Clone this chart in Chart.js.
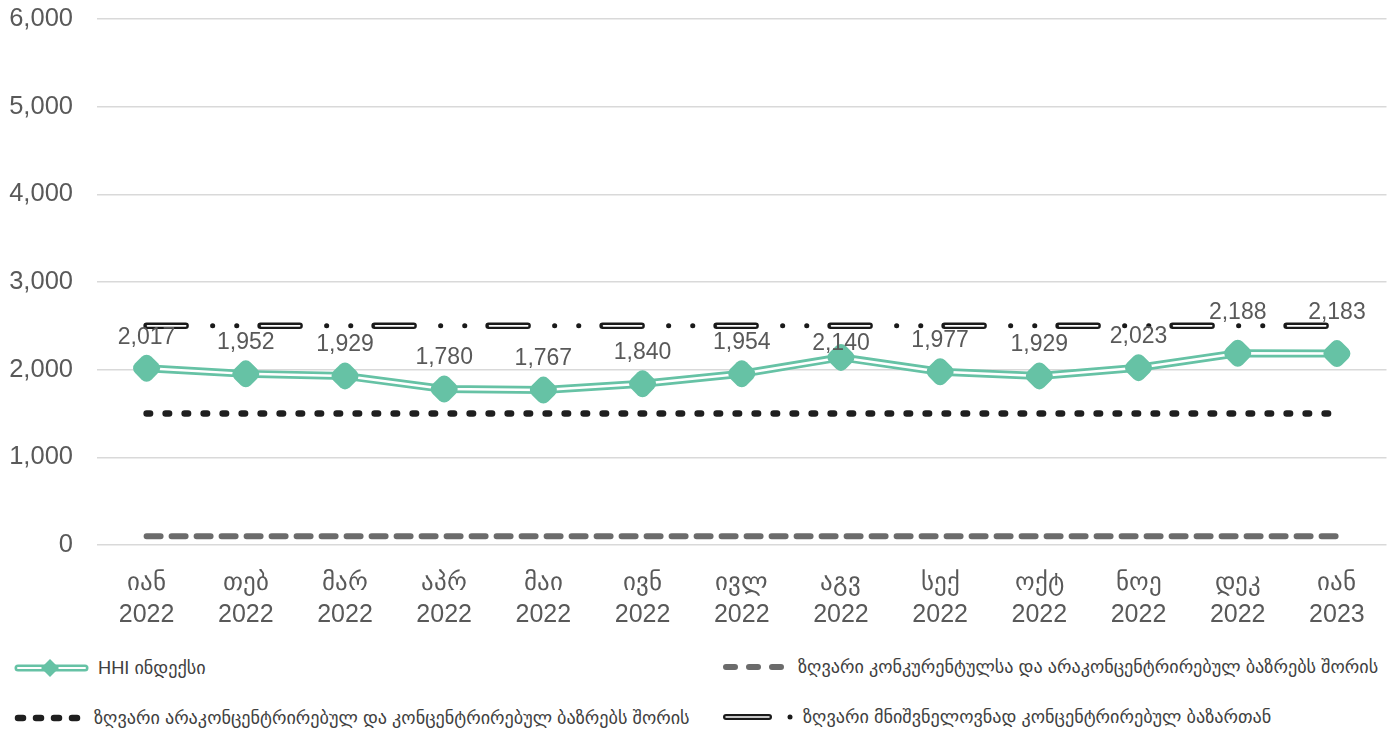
<!DOCTYPE html>
<html>
<head>
<meta charset="utf-8">
<script src="https://cdn.jsdelivr.net/npm/chart.js@4.4.1/dist/chart.umd.min.js"></script>
<style>
  body { margin: 0; background: #fff; width: 1400px; height: 733px; overflow: hidden;
         font-family: "Liberation Sans", "DejaVu Sans", sans-serif; }
  #wrap { position: relative; width: 1400px; height: 640px; }
  .item { position: absolute; display: flex; align-items: center; height: 24px;
          font-family: "Liberation Sans", "DejaVu Sans", sans-serif; font-size: 18.2px; color: #404040; }
</style>
</head>
<body>
<div id="wrap"><canvas id="hhiChart" width="1400" height="640"></canvas></div>
<div id="legend"></div>
<script>
const months = ['იან', 'თებ', 'მარ', 'აპრ', 'მაი', 'ივნ', 'ივლ', 'აგვ', 'სექ', 'ოქტ', 'ნოე', 'დეკ', 'იან'];
const years = ['2022', '2022', '2022', '2022', '2022', '2022', '2022', '2022', '2022', '2022', '2022', '2022', '2023'];
const hhi = [2017, 1952, 1929, 1780, 1767, 1840, 1954, 2140, 1977, 1929, 2023, 2188, 2183];
const competitiveLimit = 100;
const unconcentratedLimit = 1500;
const highlyConcentratedLimit = 2500;
const yTicks = [0, 1000, 2000, 3000, 4000, 5000, 6000];

const seriesNames = [
  'HHI ინდექსი',
  'ზღვარი კონკურენტულსა და არაკონცენტრირებულ ბაზრებს შორის',
  'ზღვარი არაკონცენტრირებულ და კონცენტრირებულ ბაზრებს შორის',
  'ზღვარი მნიშვნელოვნად კონცენტრირებულ ბაზართან'
];

const GREEN = '#66c2a5';
const labels = months.map((m, i) => [m, years[i]]);
const flat = v => labels.map(() => v);

// value labels above the HHI diamonds; a few are nudged off the 2500 line
const labelNudge = { 7: 17, 11: -10, 12: -10 };
const valueLabels = {
  id: 'valueLabels',
  afterDatasetsDraw(chart) {
    const meta = chart.getDatasetMeta(2);
    const ctx = chart.ctx;
    ctx.save();
    ctx.font = '23px "Liberation Sans", sans-serif';
    ctx.fillStyle = '#595959';
    ctx.textAlign = 'center';
    ctx.textBaseline = 'middle';
    meta.data.forEach((pt, i) => {
      ctx.fillText(hhi[i].toLocaleString('en-US'), pt.x, pt.y - 31 + (labelNudge[i] || 0));
    });
    ctx.restore();
  }
};

new Chart(document.getElementById('hhiChart'), {
  type: 'line',
  data: {
    labels: labels,
    datasets: [
      { data: hhi, borderColor: GREEN, borderWidth: 8, pointRadius: 0, order: 6 },
      { data: hhi, borderColor: '#ffffff', borderWidth: 2.5, pointRadius: 0, order: 5 },
      { data: hhi, showLine: false, pointStyle: 'rectRounded', rotation: 45, pointRadius: 13.5,
        pointBackgroundColor: GREEN, pointBorderWidth: 0, order: 0 },
      { data: flat(competitiveLimit), borderColor: '#6b6b6b', borderWidth: 6, borderDash: [14, 11],
        borderCapStyle: 'round', pointRadius: 0, order: 9 },
      { data: flat(unconcentratedLimit), borderColor: '#1f1f1f', borderWidth: 6.5, borderDash: [3.5, 15.5],
        borderCapStyle: 'round', pointRadius: 0, order: 9 },
      // highly concentrated limit: black dash with white core, then two dots
      { data: flat(highlyConcentratedLimit), borderColor: '#1a1a1a', borderWidth: 6.5, borderDash: [39, 75],
        borderCapStyle: 'round', pointRadius: 0, order: 8 },
      { data: flat(highlyConcentratedLimit), borderColor: '#ffffff', borderWidth: 1.8, borderDash: [38, 76],
        borderDashOffset: -1, borderCapStyle: 'round', pointRadius: 0, order: 7 },
      { data: flat(highlyConcentratedLimit), borderColor: '#1a1a1a', borderWidth: 5, borderDash: [0.1, 24, 0.1, 89.8],
        borderDashOffset: 48, borderCapStyle: 'round', pointRadius: 0, order: 8 }
    ]
  },
  options: {
    responsive: false,
    animation: false,
    devicePixelRatio: 1,
    layout: { padding: { top: 0, right: 11, left: 0, bottom: 0 } },
    plugins: { legend: { display: false }, tooltip: { enabled: false } },
    scales: {
      x: {
        offset: true,
        grid: { display: false },
        border: { display: false },
        ticks: { color: '#595959', font: { size: 25, lineHeight: 1.28 }, padding: 14,
                 maxRotation: 0, autoSkip: false },
        afterFit: s => { s.height = 95; }
      },
      y: {
        min: 0, max: 6000,
        afterBuildTicks: s => { s.ticks = yTicks.map(v => ({ value: v })); },
        grid: { color: '#d9d9d9', drawTicks: false, lineWidth: 1.5 },
        border: { display: false },
        ticks: { color: '#595959', font: { size: 25.5 }, padding: 24,
                 callback: v => v.toLocaleString('en-US') },
        afterFit: s => { s.width = 97; s.paddingTop = 19; s.paddingBottom = 0; }
      }
    }
  },
  plugins: [valueLabels]
});

// legend
function sample(w, draw) {
  const c = document.createElement('canvas');
  c.width = w; c.height = 24;
  c.style.marginRight = '8px';
  const g = c.getContext('2d');
  g.lineCap = 'round';
  draw(g);
  return c;
}
const legendItems = [
  { name: 0, left: 12, top: 656, w: 78, draw: g => {
      g.strokeStyle = GREEN; g.lineWidth = 7; g.beginPath(); g.moveTo(6, 12); g.lineTo(73, 12); g.stroke();
      g.strokeStyle = '#fff'; g.lineWidth = 2; g.beginPath(); g.moveTo(6, 12); g.lineTo(73, 12); g.stroke();
      g.fillStyle = GREEN; g.beginPath(); g.moveTo(38, 3); g.lineTo(47, 12); g.lineTo(38, 21); g.lineTo(29, 12); g.closePath(); g.fill();
    } },
  { name: 1, left: 720, top: 655, w: 70, draw: g => {
      g.strokeStyle = '#6b6b6b'; g.lineWidth = 6; g.setLineDash([9, 14]);
      g.beginPath(); g.moveTo(6, 12); g.lineTo(68, 12); g.stroke();
    } },
  { name: 2, left: 12, top: 706, w: 74, draw: g => {
      g.strokeStyle = '#1f1f1f'; g.lineWidth = 6.5; g.setLineDash([5, 13]);
      g.beginPath(); g.moveTo(6, 12); g.lineTo(72, 12); g.stroke();
    } },
  { name: 3, left: 720, top: 705, w: 75, draw: g => {
      g.strokeStyle = '#1a1a1a'; g.lineWidth = 6; g.beginPath(); g.moveTo(6, 12); g.lineTo(49, 12); g.stroke();
      g.strokeStyle = '#fff'; g.lineWidth = 1.5; g.beginPath(); g.moveTo(6, 12); g.lineTo(49, 12); g.stroke();
      g.fillStyle = '#1a1a1a'; g.beginPath(); g.arc(70, 12, 2.5, 0, Math.PI * 2); g.fill();
    } }
];
const legendEl = document.getElementById('legend');
legendItems.forEach(it => {
  const div = document.createElement('div');
  div.className = 'item';
  div.style.left = it.left + 'px';
  div.style.top = it.top + 'px';
  div.appendChild(sample(it.w, it.draw));
  const span = document.createElement('span');
  span.textContent = seriesNames[it.name];
  div.appendChild(span);
  legendEl.appendChild(div);
});
</script>
</body>
</html>
